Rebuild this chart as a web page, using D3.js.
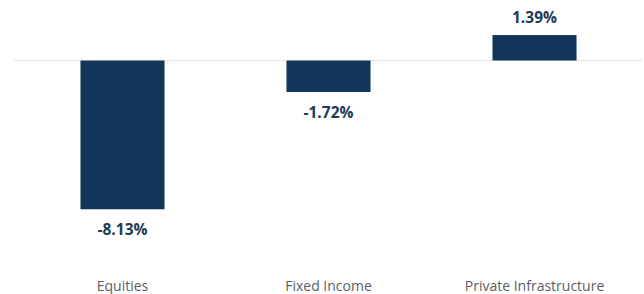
<!DOCTYPE html>
<html>
<head>
<meta charset="utf-8">
<script src="https://cdn.jsdelivr.net/npm/d3@7"></script>
<style>
    body { margin: 0; background: #fff; }
    svg { display: block; font-family: 'Open Sans', sans-serif; }
</style>
</head>
<body>
<svg id="chart" width="644" height="294"></svg>
<script>
const categories = ['Equities', 'Fixed Income', 'Private Infrastructure'];
const returns = [-8.13, -1.72, 1.39];
const valueLabels = ['-8.13%', '-1.72%', '1.39%'];

const width = 644;
const height = 294;
const barColor = '#12365a';

let svg = d3.select('#chart');

let x = d3.scaleBand()
    .domain(categories)
    .range([19.5, 637.5])
    .paddingInner(0.592)
    .paddingOuter(0.296);

// baseline sits at y = 60.5, roughly 18.3px per percentage point
let y = d3.scaleLinear()
    .domain([0, -8.13])
    .range([60.5, 60.5 + 8.13 * 18.3]);

let data = categories.map(function (c, i) {
    return { category: c, value: returns[i], label: valueLabels[i] };
});

svg.append('line')
    .attr('x1', 14)
    .attr('x2', 642)
    .attr('y1', y(0))
    .attr('y2', y(0))
    .attr('stroke', '#e4e4e4')
    .attr('stroke-width', 1.2);

svg.append('g')
    .selectAll('rect')
    .data(data)
    .join('rect')
    .attr('x', function (d) { return x(d.category); })
    .attr('y', function (d) { return Math.min(y(d.value), y(0)); })
    .attr('width', x.bandwidth())
    .attr('height', function (d) { return Math.abs(y(d.value) - y(0)); })
    .attr('fill', barColor);

svg.append('g')
    .selectAll('text')
    .data(data)
    .join('text')
    .attr('x', function (d) { return x(d.category) + x.bandwidth() / 2; })
    .attr('y', function (d) {
        return d.value < 0 ? y(d.value) + 26 : y(d.value) - 12;
    })
    .attr('text-anchor', 'middle')
    .attr('font-size', 15.5)
    .attr('font-weight', 700)
    .attr('fill', '#1d3a57')
    .text(function (d) { return d.label; });

let xAxis = svg.append('g')
    .attr('transform', 'translate(0,' + 291 + ')')
    .call(d3.axisBottom(x).tickSize(0).tickPadding(0));
xAxis.select('.domain').remove();
xAxis.selectAll('text')
    .attr('dy', 0)
    .attr('font-family', "'Open Sans', sans-serif")
    .attr('font-size', 14)
    .attr('fill', '#5a5f66');
</script>
</body>
</html>
